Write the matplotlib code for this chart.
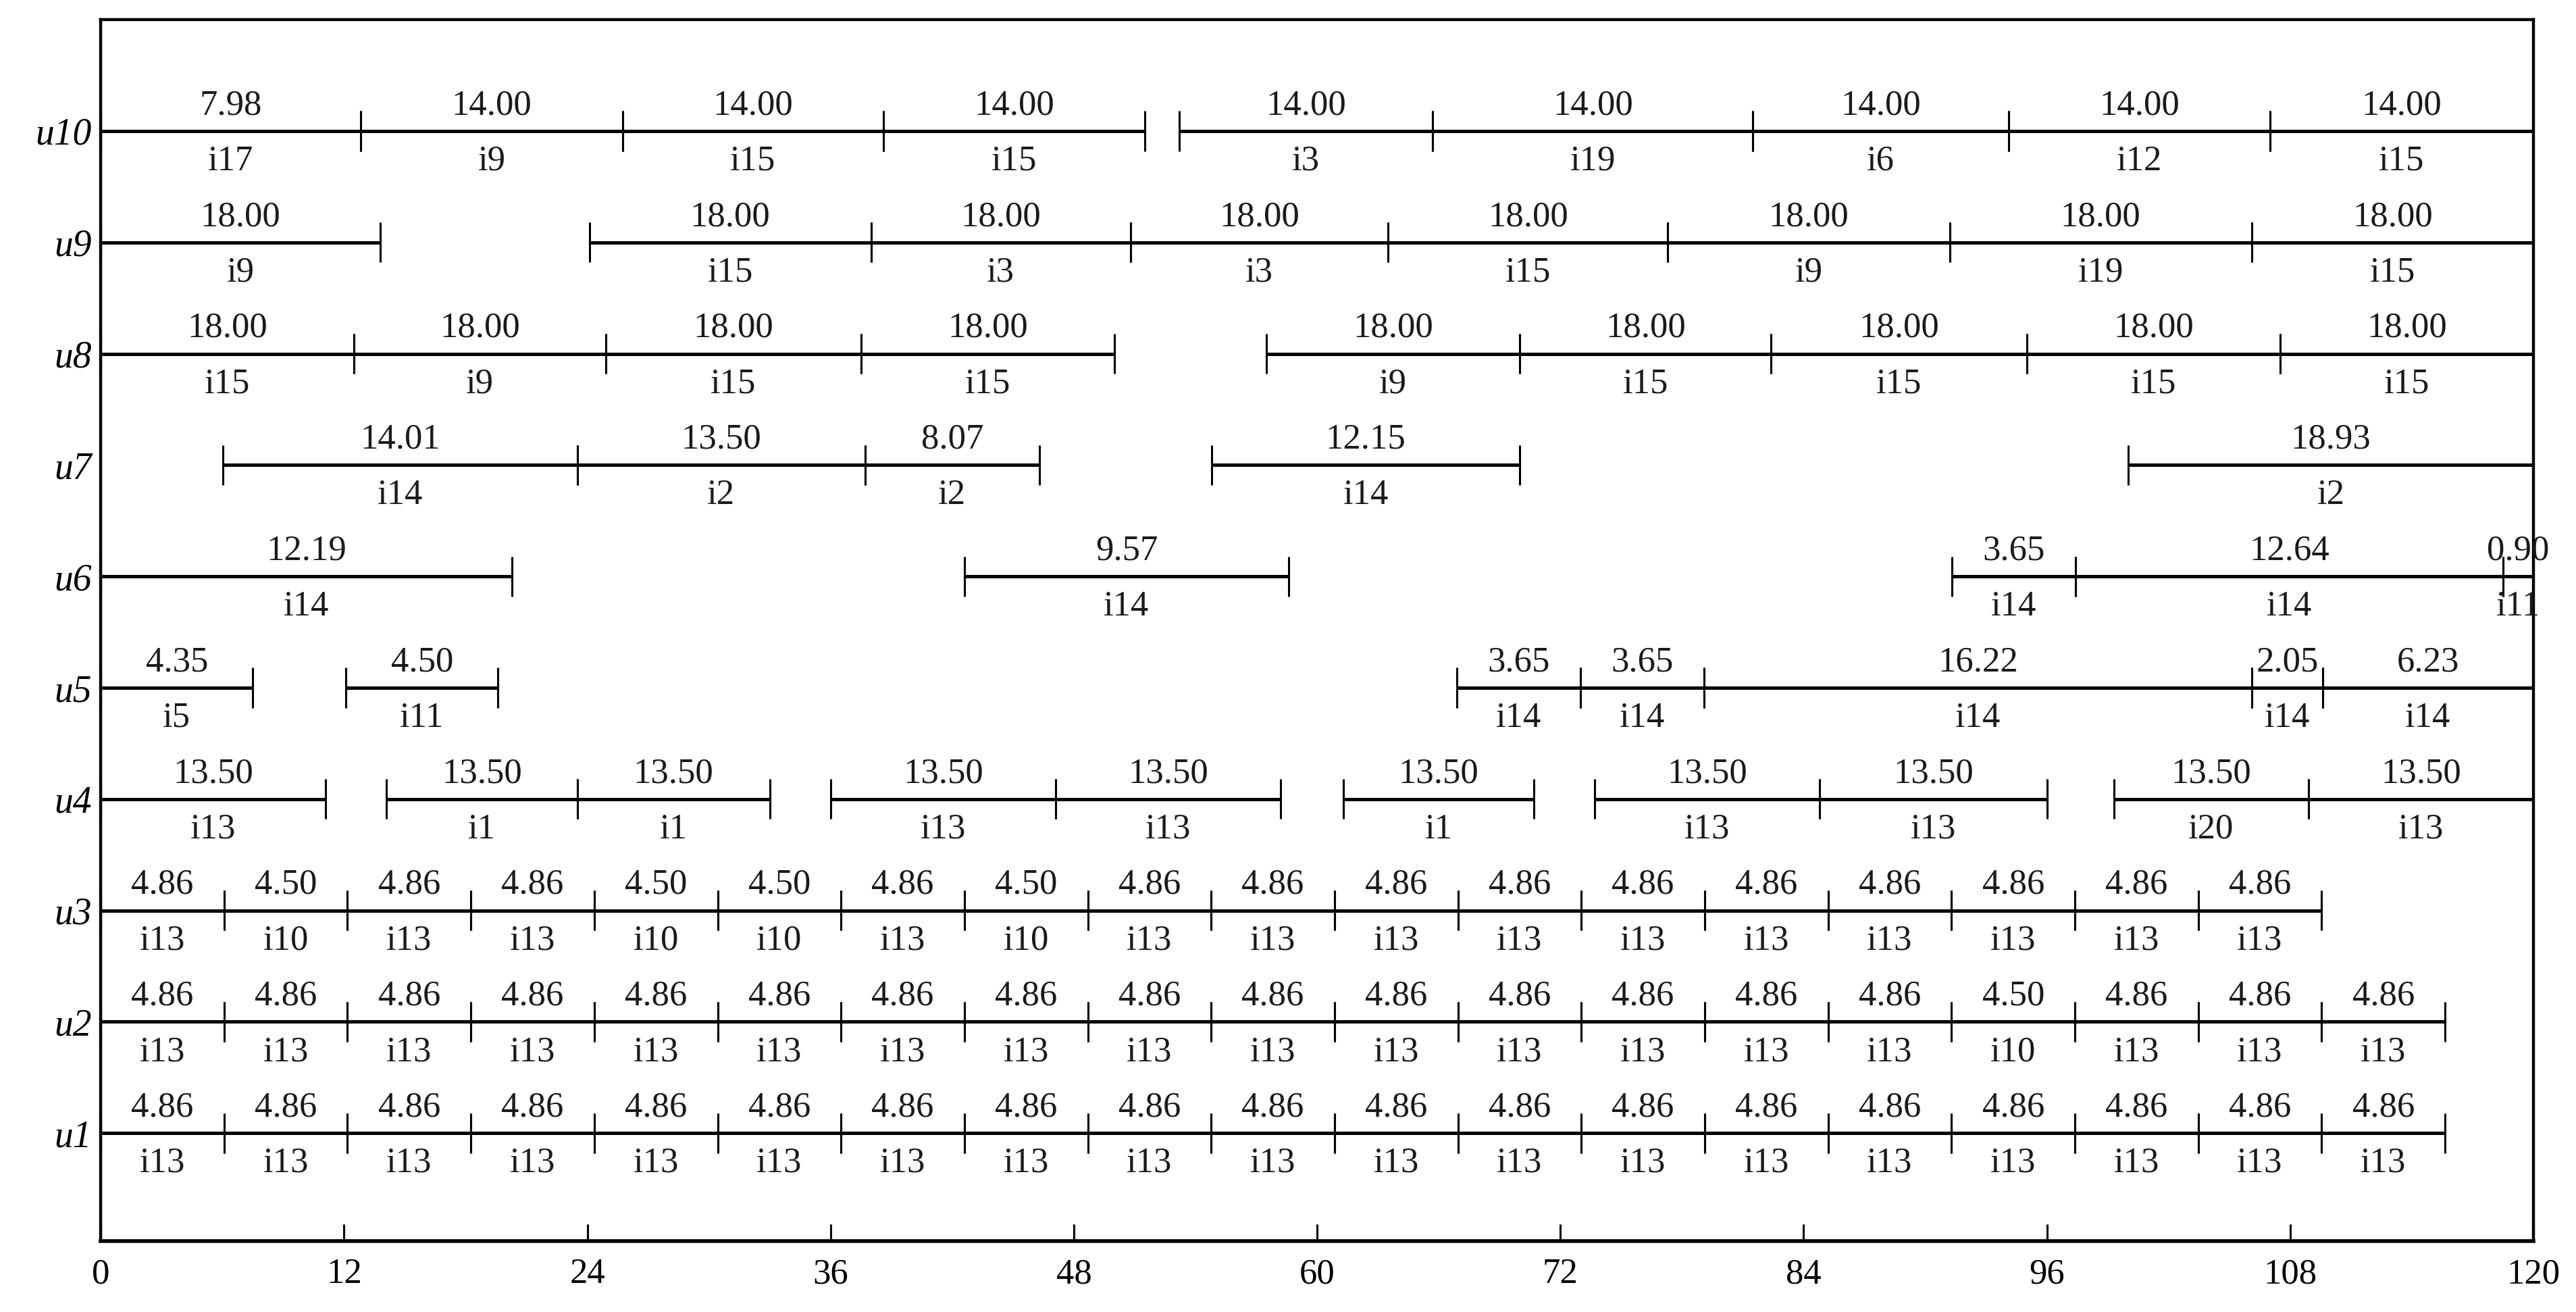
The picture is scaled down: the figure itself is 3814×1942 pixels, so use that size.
#!/usr/bin/env python3
# Gantt-style schedule: rows u1..u10, segments labelled with value (above) and job (below)

import matplotlib
matplotlib.use('Agg')
import matplotlib.pyplot as plt

plt.rcParams.update({
    'font.family': ['Liberation Serif', 'DejaVu Serif'],
    'font.size': 19,
    'axes.linewidth': 1.6,
})

# --- data (start, end, value label, job label) ---
u10 = [(0, 12.83, '7.98', 'i17'), (12.83, 25.75, '14.00', 'i9'), (25.75, 38.6, '14.00', 'i15'),
       (38.6, 51.5, '14.00', 'i15'), (53.2, 65.7, '14.00', 'i3'), (65.7, 81.5, '14.00', 'i19'),
       (81.5, 94.1, '14.00', 'i6'), (94.1, 107.0, '14.00', 'i12'), (107.0, 120, '14.00', 'i15')]
u9 = [(0, 13.8, '18.00', 'i9'), (24.1, 38.0, '18.00', 'i15'), (38.0, 50.8, '18.00', 'i3'),
      (50.8, 63.5, '18.00', 'i3'), (63.5, 77.3, '18.00', 'i15'), (77.3, 91.2, '18.00', 'i9'),
      (91.2, 106.1, '18.00', 'i19'), (106.1, 120, '18.00', 'i15')]
u8 = [(0, 12.5, '18.00', 'i15'), (12.5, 24.9, '18.00', 'i9'), (24.9, 37.5, '18.00', 'i15'),
      (37.5, 50.0, '18.00', 'i15'), (57.5, 70.0, '18.00', 'i9'), (70.0, 82.4, '18.00', 'i15'),
      (82.4, 95.0, '18.00', 'i15'), (95.0, 107.5, '18.00', 'i15'), (107.5, 120, '18.00', 'i15')]
u7 = [(6.03, 23.5, '14.01', 'i14'), (23.5, 37.7, '13.50', 'i2'), (37.7, 46.3, '8.07', 'i2'),
      (54.8, 70.0, '12.15', 'i14'), (100.0, 120, '18.93', 'i2')]
u6 = [(0, 20.3, '12.19', 'i14'), (42.6, 58.6, '9.57', 'i14'), (91.3, 97.4, '3.65', 'i14'),
      (97.4, 118.5, '12.64', 'i14'), (118.5, 120, '0.90', 'i11')]
u5 = [(0, 7.5, '4.35', 'i5'), (12.1, 19.6, '4.50', 'i11'), (66.9, 73.0, '3.65', 'i14'),
      (73.0, 79.1, '3.65', 'i14'), (79.1, 106.1, '16.22', 'i14'), (106.1, 109.6, '2.05', 'i14'),
      (109.6, 120, '6.23', 'i14')]
u4 = [(0, 11.1, '13.50', 'i13'), (14.1, 23.5, '13.50', 'i1'), (23.5, 33.0, '13.50', 'i1'),
      (36.0, 47.1, '13.50', 'i13'), (47.1, 58.2, '13.50', 'i13'), (61.3, 70.7, '13.50', 'i1'),
      (73.7, 84.8, '13.50', 'i13'), (84.8, 96.0, '13.50', 'i13'), (99.3, 108.9, '13.50', 'i20'),
      (108.9, 120, '13.50', 'i13')]

# boundaries of the short back-to-back tasks in u1..u3
grid = [0, 6.09, 12.17, 18.26, 24.34, 30.43, 36.52, 42.60, 48.69, 54.78, 60.86,
        66.95, 73.03, 79.12, 85.21, 91.29, 97.38, 103.46, 109.55, 115.64]
u3_vals = ['4.86', '4.50', '4.86', '4.86', '4.50', '4.50', '4.86', '4.50', '4.86',
           '4.86', '4.86', '4.86', '4.86', '4.86', '4.86', '4.86', '4.86', '4.86']
u3_jobs = ['i13', 'i10', 'i13', 'i13', 'i10', 'i10', 'i13', 'i10', 'i13',
           'i13', 'i13', 'i13', 'i13', 'i13', 'i13', 'i13', 'i13', 'i13']
u2_vals = ['4.86'] * 15 + ['4.50'] + ['4.86'] * 3
u2_jobs = ['i13'] * 15 + ['i10'] + ['i13'] * 3
u1_vals = ['4.86'] * 19
u1_jobs = ['i13'] * 19

u3 = [(grid[k], grid[k + 1], u3_vals[k], u3_jobs[k]) for k in range(len(u3_vals))]
u2 = [(grid[k], grid[k + 1], u2_vals[k], u2_jobs[k]) for k in range(len(u2_vals))]
u1 = [(grid[k], grid[k + 1], u1_vals[k], u1_jobs[k]) for k in range(len(u1_vals))]

row_names = ['u1', 'u2', 'u3', 'u4', 'u5', 'u6', 'u7', 'u8', 'u9', 'u10']
rows = [u1, u2, u3, u4, u5, u6, u7, u8, u9, u10]
xticks = [0, 12, 24, 36, 48, 60, 72, 84, 96, 108, 120]

fig = plt.figure(figsize=(19.07, 9.71), dpi=200)
ax = fig.add_axes([0.0391, 0.054, 0.9444, 0.931])

for r, segs in enumerate(rows):
    y = r + 1
    for (s, e, val, job) in segs:
        ax.hlines(y, s, e, color='black', linewidth=1.8)
        ax.vlines([s, e], y - 0.18, y + 0.18, color='black', linewidth=1.1)
        xm = (s + e) / 2
        ax.text(xm, y + 0.15, val, ha='center', va='baseline', fontsize=19, color='#1a1a1a')
        ax.text(xm, y - 0.35, job, ha='center', va='baseline', fontsize=19, color='#1a1a1a')

ax.set_xlim(0, 120)
ax.set_ylim(0.03, 11.0)
ax.set_xticks(xticks)
ax.set_xticklabels([str(t) for t in xticks])
ax.set_yticks(range(1, 11))
ax.set_yticklabels(row_names, fontstyle='italic', fontsize=20)
ax.tick_params(axis='x', direction='in', length=9, width=1.1, pad=9, labelsize=19)
ax.tick_params(axis='y', length=0, pad=5)
ax.spines['bottom'].set_linewidth(2.0)

fig.savefig('out.png', dpi=200)
